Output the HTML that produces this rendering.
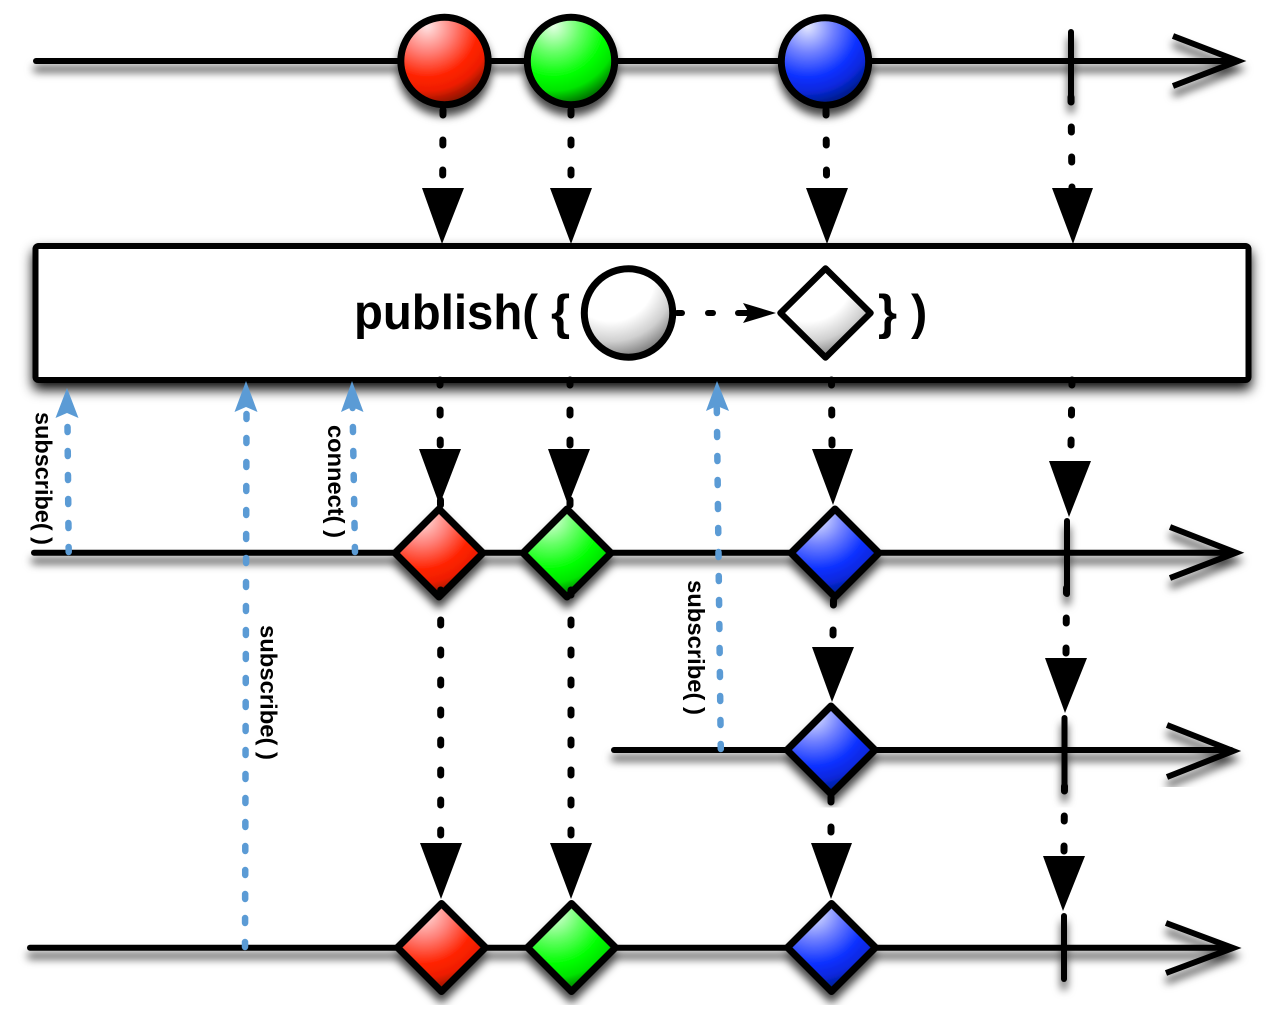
<!DOCTYPE html>
<html>
<head>
<meta charset="utf-8">
<style>
html,body{margin:0;padding:0;background:#fff;width:1280px;height:1020px;overflow:hidden}
svg{display:block}
text{font-family:"Liberation Sans",sans-serif;font-weight:bold;fill:#000}
</style>
</head>
<body>
<svg width="1280" height="1020" viewBox="0 0 1280 1020" xmlns="http://www.w3.org/2000/svg">
<defs>
<filter id="sh" x="-5%" y="-5%" width="110%" height="120%" filterUnits="objectBoundingBox">
  <feDropShadow dx="0" dy="8" stdDeviation="4.2" flood-color="#000" flood-opacity="0.72"/>
</filter>
<filter id="shb" x="-5%" y="-10%" width="110%" height="130%">
  <feDropShadow dx="0" dy="7" stdDeviation="6" flood-color="#000" flood-opacity="0.95"/>
</filter>
<radialGradient id="r" cx="0.3" cy="0.1" r="0.95">
  <stop offset="0" stop-color="#ffe4e4"/><stop offset="0.32" stop-color="#ff8078"/><stop offset="0.62" stop-color="#ff2200"/><stop offset="0.78" stop-color="#ee1e00"/><stop offset="1" stop-color="#701000"/>
</radialGradient>
<radialGradient id="g" cx="0.3" cy="0.1" r="0.95">
  <stop offset="0" stop-color="#e4ffe4"/><stop offset="0.32" stop-color="#66ff66"/><stop offset="0.62" stop-color="#00ff00"/><stop offset="0.78" stop-color="#00e400"/><stop offset="1" stop-color="#005400"/>
</radialGradient>
<radialGradient id="b" cx="0.3" cy="0.1" r="0.95">
  <stop offset="0" stop-color="#e4e8ff"/><stop offset="0.32" stop-color="#7080ff"/><stop offset="0.62" stop-color="#0a30ff"/><stop offset="0.78" stop-color="#0828dc"/><stop offset="1" stop-color="#001870"/>
</radialGradient>
<radialGradient id="w" cx="0.3" cy="0.1" r="0.9">
  <stop offset="0" stop-color="#ffffff"/><stop offset="0.55" stop-color="#ffffff"/><stop offset="0.8" stop-color="#d0d0d0"/><stop offset="1" stop-color="#858585"/>
</radialGradient>
</defs>

<rect width="1280" height="1020" fill="#fff"/>

<!-- box -->
<g filter="url(#shb)">
  <rect x="35.5" y="246" width="1213" height="134" rx="3" fill="#fff" stroke="#000" stroke-width="6"/>
</g>

<!-- timelines, ticks, marbles -->
<g filter="url(#sh)" stroke="#000" stroke-width="6" fill="none" stroke-linecap="round" stroke-miterlimit="12">
  <line x1="36" y1="61" x2="1236" y2="61"/>
  <path d="M1173,36 L1238,61 L1173,86" stroke-linecap="butt"/>
  <line x1="1071" y1="32" x2="1071" y2="102"/>
  <circle cx="444.5" cy="61" r="43.7" fill="url(#r)" stroke-width="7"/>
  <circle cx="571" cy="61" r="43.7" fill="url(#g)" stroke-width="7"/>
  <circle cx="825" cy="61.5" r="43.7" fill="url(#b)" stroke-width="7"/>

  <line x1="34" y1="552.7" x2="1234" y2="552.7"/>
  <path d="M1170,527 L1236,552.7 L1170,578" stroke-linecap="butt"/>
  <line x1="1067" y1="521" x2="1067" y2="594"/>
  <path d="M439,509 L483,553 L439,597 L395,553 Z" fill="url(#r)" stroke-linejoin="round" stroke-width="7"/>
  <path d="M567,509 L611,553 L567,597 L523,553 Z" fill="url(#g)" stroke-linejoin="round" stroke-width="7"/>
  <path d="M835,509 L879,553 L835,597 L791,553 Z" fill="url(#b)" stroke-linejoin="round" stroke-width="7"/>
</g>
<g filter="url(#sh)" stroke="#000" stroke-width="6" fill="none" stroke-linecap="round" stroke-miterlimit="12">
  <line x1="614" y1="750" x2="1231" y2="750"/>
  <path d="M1167,725 L1233,751 L1167,777" stroke-linecap="butt"/>
  <line x1="1064.5" y1="718" x2="1064.5" y2="791"/>
  <path d="M831,706 L875,750 L831,794 L787,750 Z" fill="url(#b)" stroke-linejoin="round" stroke-width="7"/>
</g>
<rect x="1158" y="787" width="110" height="22" fill="#fff"/>
<g filter="url(#sh)" stroke="#000" stroke-width="6" fill="none" stroke-linecap="round" stroke-miterlimit="12">
  <line x1="30" y1="947.7" x2="1231" y2="947.7"/>
  <path d="M1166,923 L1233,948 L1166,973" stroke-linecap="butt"/>
  <line x1="1064" y1="916" x2="1064" y2="979"/>
  <path d="M441.5,903.5 L485.5,947.5 L441.5,991.5 L397.5,947.5 Z" fill="url(#r)" stroke-linejoin="round" stroke-width="7"/>
  <path d="M571.5,903.5 L615.5,947.5 L571.5,991.5 L527.5,947.5 Z" fill="url(#g)" stroke-linejoin="round" stroke-width="7"/>
  <path d="M831.5,903.5 L875.5,947.5 L831.5,991.5 L787.5,947.5 Z" fill="url(#b)" stroke-linejoin="round" stroke-width="7"/>
</g>

<!-- box content -->
<text x="354" y="329" font-size="49" textLength="184" lengthAdjust="spacingAndGlyphs">publish(</text>
<text x="551" y="329" font-size="49">{</text>
<text x="878" y="329" font-size="49">}</text>
<text x="911" y="329" font-size="49">)</text>
<circle cx="628.5" cy="313" r="44.2" fill="url(#w)" stroke="#000" stroke-width="7"/>
<path d="M825.5,268.5 L870.5,313 L825.5,357.5 L780.5,313 Z" fill="url(#w)" stroke="#000" stroke-width="6.5" stroke-linejoin="round"/>
<g stroke="#000" stroke-width="6" stroke-linecap="round">
  <line x1="677" y1="313" x2="682" y2="313"/>
  <line x1="708" y1="313" x2="713" y2="313"/>
  <line x1="738" y1="313" x2="758" y2="313"/>
</g>
<path d="M776,313 L743,303 L749,313 L743,323 Z" fill="#000"/>

<!-- black dashed connectors -->
<g stroke="#000" stroke-width="7" stroke-linecap="round" fill="none" stroke-dasharray="5 25">
  <line x1="443" y1="110" x2="442.7" y2="176"/>
  <line x1="571" y1="110" x2="571" y2="176"/>
  <line x1="826" y1="110" x2="826.5" y2="176"/>
  <line x1="1071" y1="97" x2="1072" y2="190"/>

  <line x1="440" y1="380" x2="440.5" y2="506"/>
  <line x1="570" y1="380" x2="570" y2="506"/>
  <line x1="831.5" y1="380" x2="832" y2="446"/>
  <line x1="1072" y1="380" x2="1071" y2="446"/>

  <line x1="440.7" y1="590" x2="440.7" y2="836"/>
  <line x1="571" y1="590" x2="571" y2="836"/>

  <line x1="833.5" y1="600" x2="833" y2="636"/>
  <line x1="831" y1="797" x2="831" y2="833"/>

  <line x1="1066.5" y1="588" x2="1066" y2="654"/>
  <line x1="1064.5" y1="786" x2="1064" y2="852"/>
</g>

<!-- black arrowheads -->
<g fill="#000">
  <path d="M422,188 L464,188 L442,244 Z"/>
  <path d="M550,188 L592,188 L571,244 Z"/>
  <path d="M806,188 L848,188 L827,244 Z"/>
  <path d="M1052,188 L1093,188 L1073,244 Z"/>

  <path d="M419,449 L461,449 L439.5,505 Z"/>
  <path d="M548,449 L590,449 L568,505 Z"/>
  <path d="M812,449 L853,449 L833,505 Z"/>
  <path d="M1049,461 L1091,461 L1069,517 Z"/>

  <path d="M812,647 L854,647 L832,702 Z"/>
  <path d="M1045,658 L1087,658 L1065,713 Z"/>

  <path d="M420,843 L462,843 L441,899 Z"/>
  <path d="M550,843 L592,843 L571,899 Z"/>
  <path d="M811,843 L852,843 L831,899 Z"/>
  <path d="M1043,856 L1085,856 L1063,911 Z"/>
</g>

<!-- blue dashed connectors -->
<g stroke="#5b9bd5" stroke-width="6.5" stroke-linecap="round" fill="none" stroke-dasharray="5 19">
  <line x1="67.3" y1="403" x2="68.7" y2="553"/>
  <line x1="246.5" y1="414" x2="245" y2="948"/>
  <line x1="352.5" y1="403" x2="355" y2="553"/>
  <line x1="716.8" y1="408" x2="720.8" y2="750"/>
</g>
<g fill="#5b9bd5">
  <path d="M67,388 L78.5,418 L67,413 L55.5,418 Z"/>
  <path d="M246,381 L257.5,412 L246,407 L234.5,412 Z"/>
  <path d="M352,381 L363.5,412 L352,407 L341,412 Z"/>
  <path d="M717,381 L729,411 L717,406 L706,411 Z"/>
</g>

<!-- rotated labels -->
<text transform="translate(35.5,412) rotate(90)" font-size="23" textLength="133" lengthAdjust="spacingAndGlyphs">subscribe( )</text>
<text transform="translate(328,425) rotate(90)" font-size="23" textLength="113" lengthAdjust="spacingAndGlyphs">connect( )</text>
<text transform="translate(260.5,625) rotate(90)" font-size="23" textLength="135" lengthAdjust="spacingAndGlyphs">subscribe( )</text>
<text transform="translate(688,580) rotate(90)" font-size="23" textLength="135" lengthAdjust="spacingAndGlyphs">subscribe( )</text>
</svg>
</body>
</html>
